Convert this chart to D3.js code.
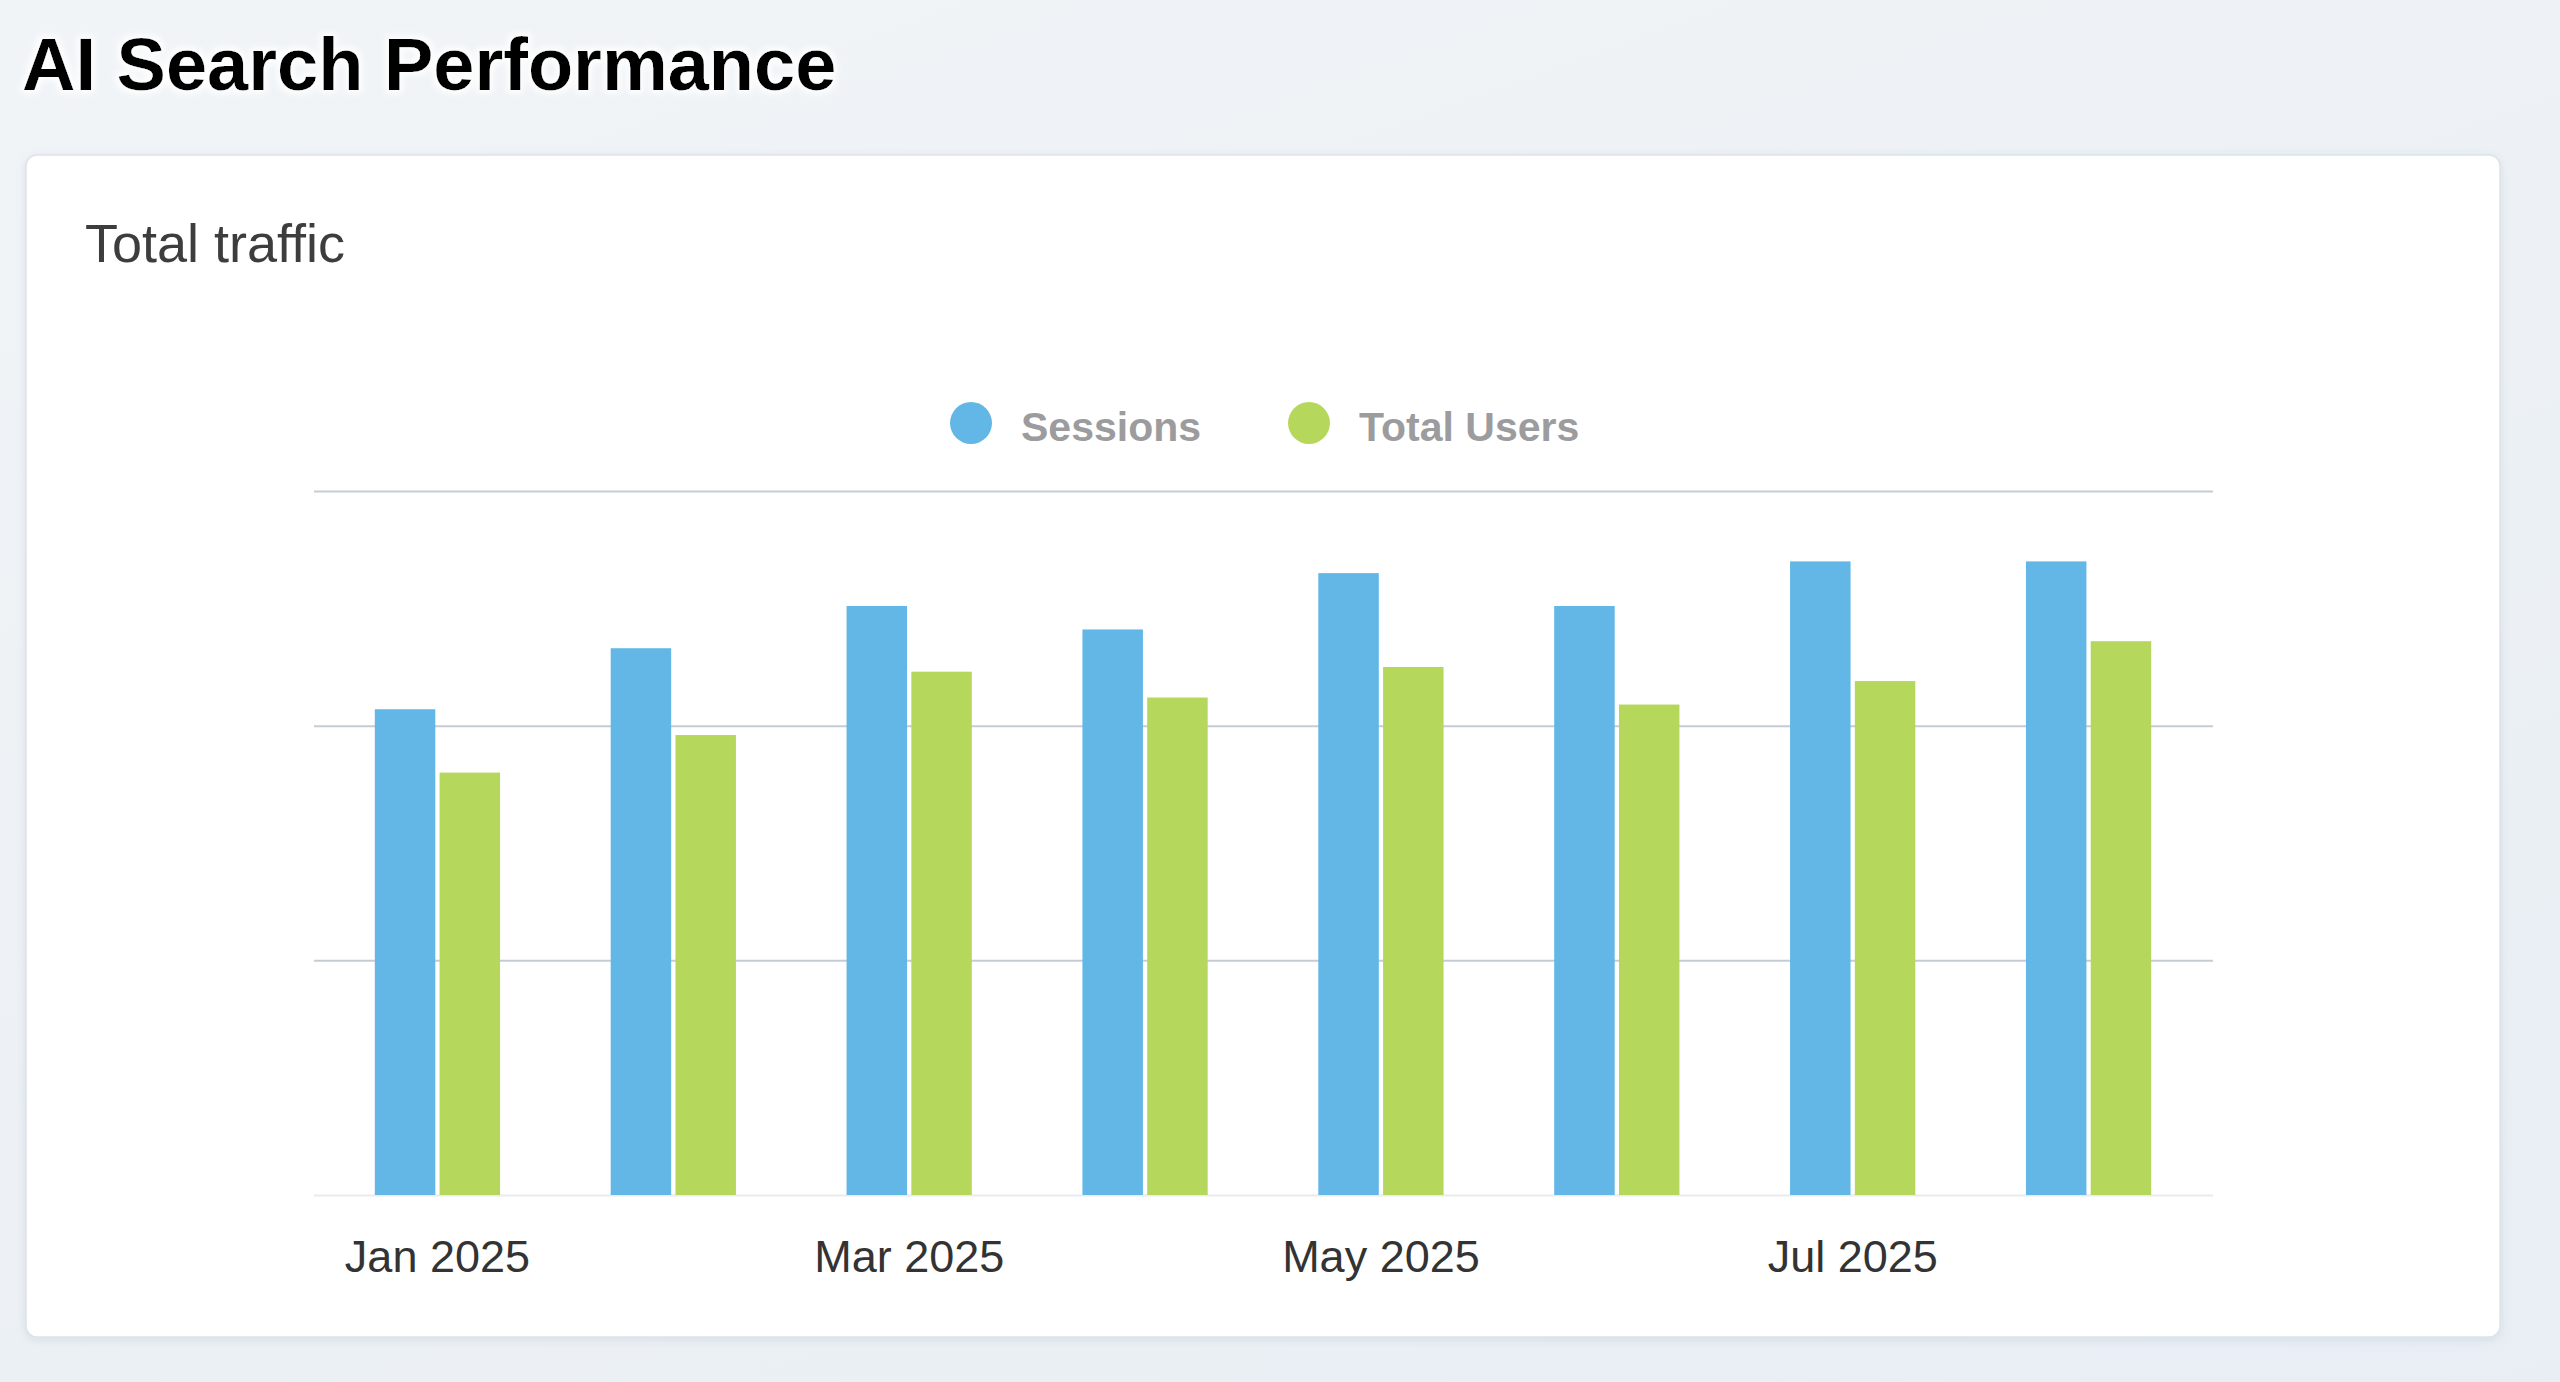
<!DOCTYPE html>
<html>
<head>
<meta charset="utf-8">
<script src="https://cdn.jsdelivr.net/npm/d3@7"></script>
<style>
  html, body { margin: 0; padding: 0; width: 2560px; height: 1382px; overflow: hidden; }
  body { background: linear-gradient(160deg, #f1f4f7 0%, #edf1f5 45%, #e8eef4 100%); }
  svg { display: block; }
</style>
</head>
<body>
<svg id="chart" width="2560" height="1382"></svg>
<script>
// ---- data ----
const months = ["Jan 2025", "Feb 2025", "Mar 2025", "Apr 2025", "May 2025", "Jun 2025", "Jul 2025", "Aug 2025"];
const seriesNames = ["Sessions", "Total Users"];
const sessions = [207, 233, 251, 241, 265, 251, 270, 270];
const totalUsers = [180, 196, 223, 212, 225, 209, 219, 236];
const tickLabels = ["Jan 2025", "Mar 2025", "May 2025", "Jul 2025"];
const gridValues = [100, 200, 300];
const seriesColors = ["#62b7e6", "#b5d85c"];

const rows = months.map((m, i) => ({ month: m, values: [sessions[i], totalUsers[i]] }));

const svg = d3.select("#chart");
const defs = svg.append("defs");

// white glow for title
const glow = defs.append("filter").attr("id", "glow").attr("x", "-10%").attr("y", "-30%").attr("width", "120%").attr("height", "160%");
glow.append("feMorphology").attr("in", "SourceAlpha").attr("operator", "dilate").attr("radius", 3).attr("result", "d");
glow.append("feGaussianBlur").attr("in", "d").attr("stdDeviation", 3).attr("result", "b");
glow.append("feFlood").attr("flood-color", "#ffffff").attr("flood-opacity", 0.95).attr("result", "f");
glow.append("feComposite").attr("in", "f").attr("in2", "b").attr("operator", "in").attr("result", "g");
const gm = glow.append("feMerge");
gm.append("feMergeNode").attr("in", "g");
gm.append("feMergeNode").attr("in", "SourceGraphic");

// card shadow
const sh = defs.append("filter").attr("id", "cardShadow").attr("x", "-5%").attr("y", "-5%").attr("width", "110%").attr("height", "110%");
sh.append("feDropShadow").attr("dx", 0).attr("dy", 2).attr("stdDeviation", 4).attr("flood-color", "#9aa6b4").attr("flood-opacity", 0.25);

// title
svg.append("text")
  .attr("x", 22).attr("y", 90)
  .attr("font-family", "'Liberation Sans', Arial, sans-serif")
  .attr("font-weight", "bold")
  .attr("font-size", 74)
  .attr("fill", "#000")
  .attr("filter", "url(#glow)")
  .text("AI Search Performance");

// card
svg.append("rect")
  .attr("x", 26).attr("y", 155).attr("width", 2474).attr("height", 1182)
  .attr("rx", 11).attr("ry", 11)
  .attr("fill", "#ffffff")
  .attr("stroke", "#dde3ea").attr("stroke-width", 1.5)
  .attr("filter", "url(#cardShadow)");

svg.append("text")
  .attr("x", 85).attr("y", 262)
  .attr("font-family", "'Liberation Sans', Arial, sans-serif")
  .attr("font-size", 54)
  .attr("fill", "#3d3d3d")
  .text("Total traffic");

// legend
const legendItems = [
  { name: seriesNames[0], color: seriesColors[0], cx: 971, tx: 1021 },
  { name: seriesNames[1], color: seriesColors[1], cx: 1309, tx: 1359 }
];
const lg = svg.append("g");
lg.selectAll("circle").data(legendItems).join("circle")
  .attr("cx", d => d.cx).attr("cy", 423).attr("r", 21)
  .attr("fill", d => d.color);
lg.selectAll("text").data(legendItems).join("text")
  .attr("x", d => d.tx).attr("y", 441)
  .attr("font-family", "'Liberation Sans', Arial, sans-serif")
  .attr("font-weight", "bold")
  .attr("font-size", 41)
  .attr("fill", "#9c9c9e")
  .text(d => d.name);

// scales
const plotLeft = 314, plotRight = 2213;
const y = d3.scaleLinear().domain([0, 300]).range([1195, 491]);
const x0 = d3.scaleBand().domain(months).range([319.5, 2206.5]).paddingInner(0.469).paddingOuter(0.2345);
const x1 = d3.scaleBand().domain(seriesNames).range([0, x0.bandwidth()]).paddingInner(0.066);

// gridlines via axis
const grid = svg.append("g")
  .attr("transform", `translate(${plotLeft},0)`)
  .call(d3.axisLeft(y).tickValues(gridValues).tickSize(-(plotRight - plotLeft)).tickFormat(""));
grid.select(".domain").remove();
grid.selectAll(".tick line").attr("stroke", "#c6ccd5").attr("stroke-width", 2);

// faint baseline
svg.append("line")
  .attr("x1", plotLeft).attr("x2", plotRight)
  .attr("y1", y(0) + 0.5).attr("y2", y(0) + 0.5)
  .attr("stroke", "#e8ebf0").attr("stroke-width", 2);

// bars
const groups = svg.append("g").selectAll("g").data(rows).join("g")
  .attr("transform", d => `translate(${x0(d.month)},0)`);
groups.selectAll("rect")
  .data(d => d.values.map((v, i) => ({ key: seriesNames[i], value: v, color: seriesColors[i] })))
  .join("rect")
  .attr("x", d => x1(d.key))
  .attr("width", x1.bandwidth())
  .attr("y", d => y(d.value))
  .attr("height", d => y(0) - y(d.value))
  .attr("fill", d => d.color);

// x axis labels
const xAxis = svg.append("g")
  .attr("transform", `translate(0,${y(0)})`)
  .call(d3.axisBottom(x0).tickValues(tickLabels).tickSize(0).tickPadding(0));
xAxis.select(".domain").remove();
xAxis.selectAll(".tick text")
  .attr("dy", null)
  .attr("y", 77)
  .attr("font-family", "'Liberation Sans', Arial, sans-serif")
  .attr("font-size", 45)
  .attr("fill", "#333");
</script>
</body>
</html>
